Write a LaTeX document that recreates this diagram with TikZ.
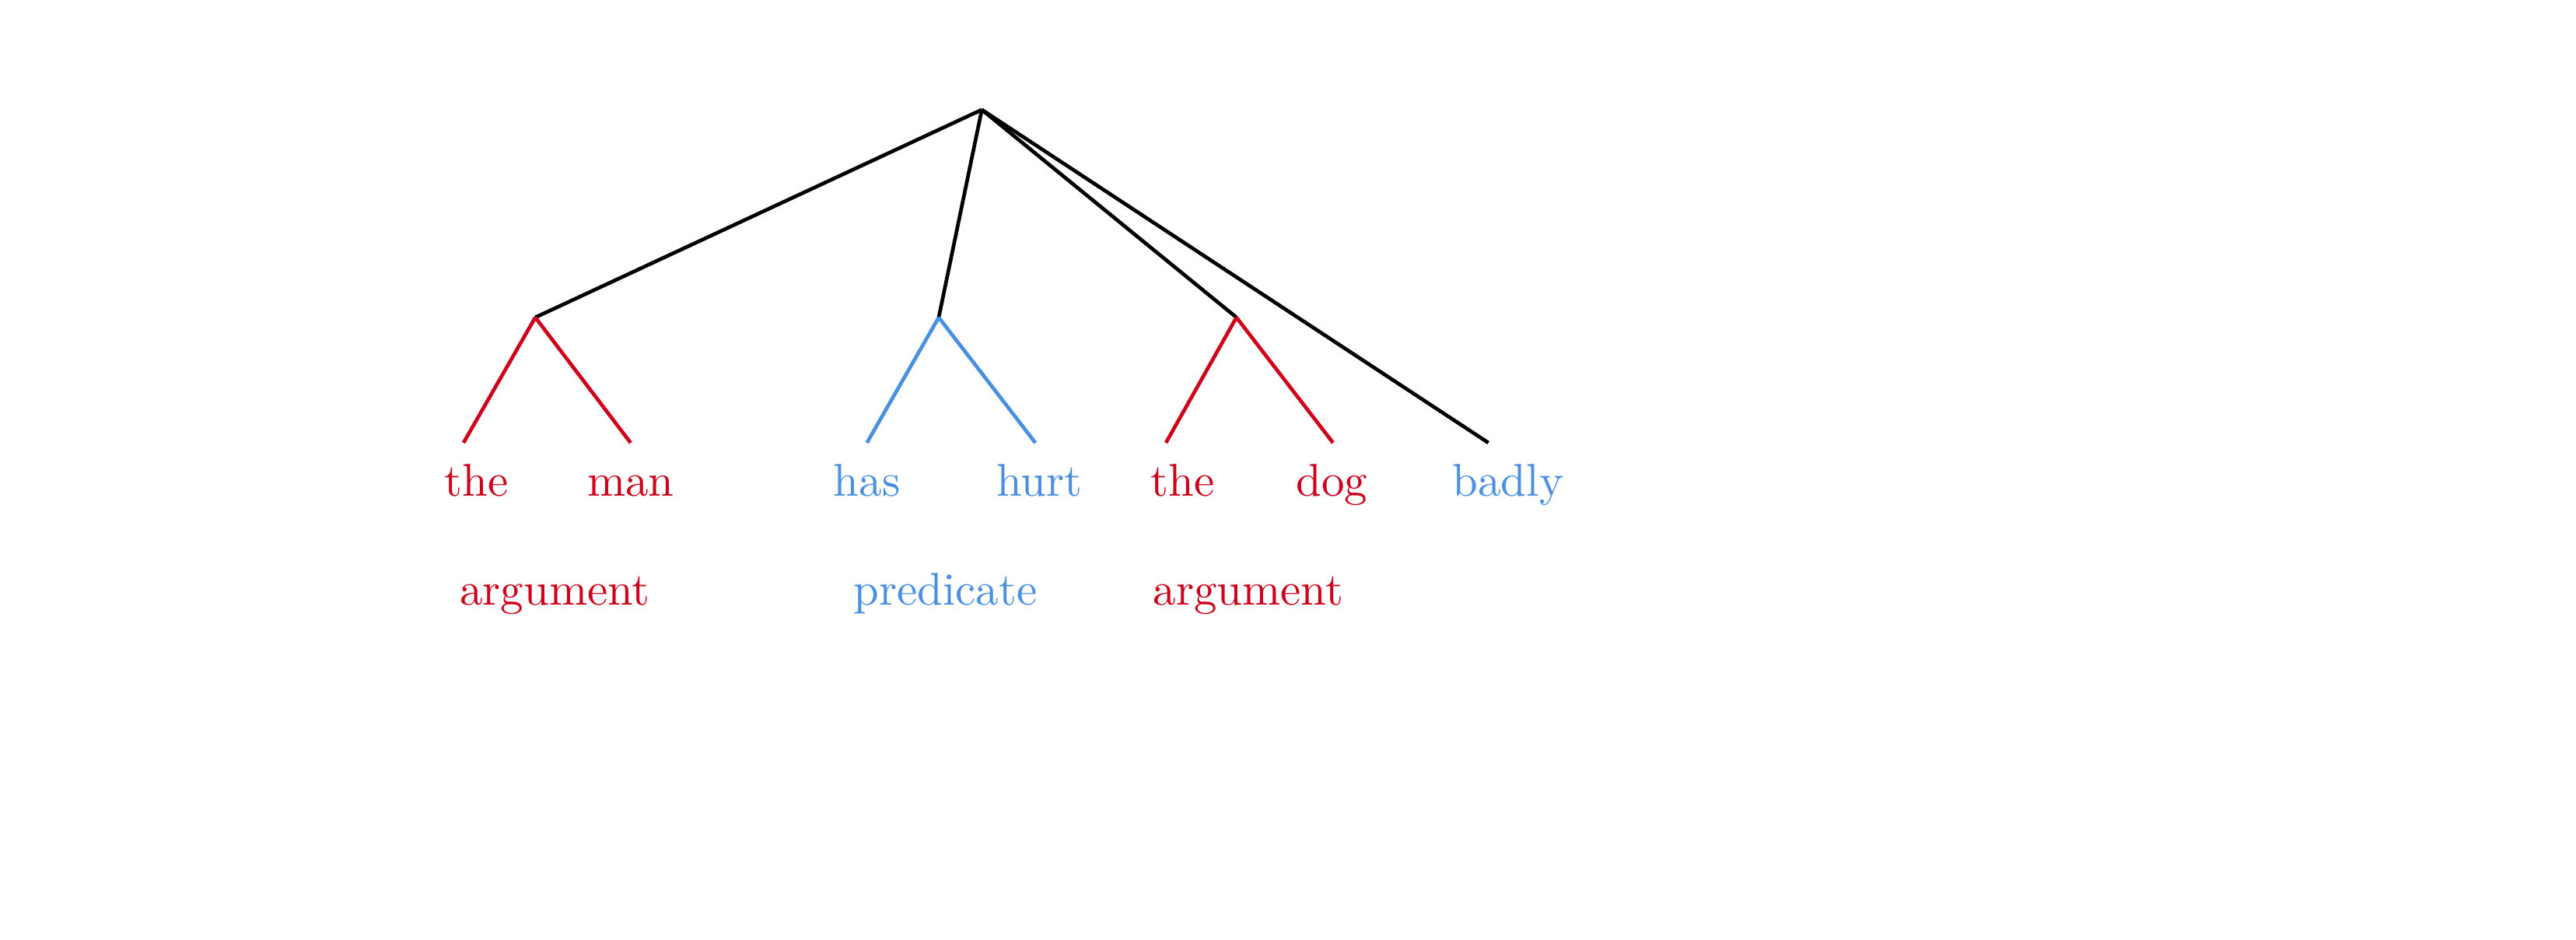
\documentclass[tikz,border=0pt]{standalone}
\usepackage{tikz}
\definecolor{argred}{HTML}{D0021B}
\definecolor{predblue}{HTML}{4A90E2}

\begin{document}
\begin{tikzpicture}[w/.style={anchor=base}, a/.style={text=argred}, p/.style={text=predblue}, ar/.style={thick, draw=argred}, pr/.style={thick, draw=predblue}, s/.style={thick, draw=black}]
		\useasboundingbox (0,0) rectangle (19.73,-7.195);
		\coordinate (S) at (7.52,-0.84);
		\coordinate (NP1) at (4.10,-2.43);
		\coordinate (VP) at (7.19,-2.43);
		\coordinate (NP2) at (9.47,-2.43);

		\node[w, a] (the1) at (3.65,-3.80) {the};
		\node[w, a] (man) at (4.83,-3.80) {man};
		\node[w, p] (has) at (6.64,-3.80) {has};
		\node[w, p] (hurt) at (7.96,-3.80) {hurt};
		\node[w, a] (the2) at (9.06,-3.80) {the};
		\node[w, a] (dog) at (10.20,-3.80) {dog};
		\node[w, p] (badly) at (11.55,-3.80) {badly};

		\coordinate (the1_top) at (3.55,-3.39);
		\coordinate (man_top) at (4.83,-3.39);
		\coordinate (has_top) at (6.64,-3.39);
		\coordinate (hurt_top) at (7.93,-3.39);
		\coordinate (the2_top) at (8.93,-3.39);
		\coordinate (dog_top) at (10.21,-3.39);
		\coordinate (badly_top) at (11.40,-3.39);

		\node[w, a] (arg1) at (4.25,-4.63) {argument};
		\node[w, p] (pred) at (7.24,-4.63) {predicate};
		\node[w, a] (arg2) at (9.56,-4.63) {argument};

		\path[s] (S) edge (NP1);
		\path[s] (S) edge (VP);
		\path[s] (S) edge (NP2);
		\path[s] (S) edge (badly_top);
		\path[ar] (NP1) edge (the1_top);
		\path[ar] (NP1) edge (man_top);
		\path[pr] (VP) edge (has_top);
		\path[pr] (VP) edge (hurt_top);
		\path[ar] (NP2) edge (the2_top);
		\path[ar] (NP2) edge (dog_top);
	\end{tikzpicture}
\end{document}
